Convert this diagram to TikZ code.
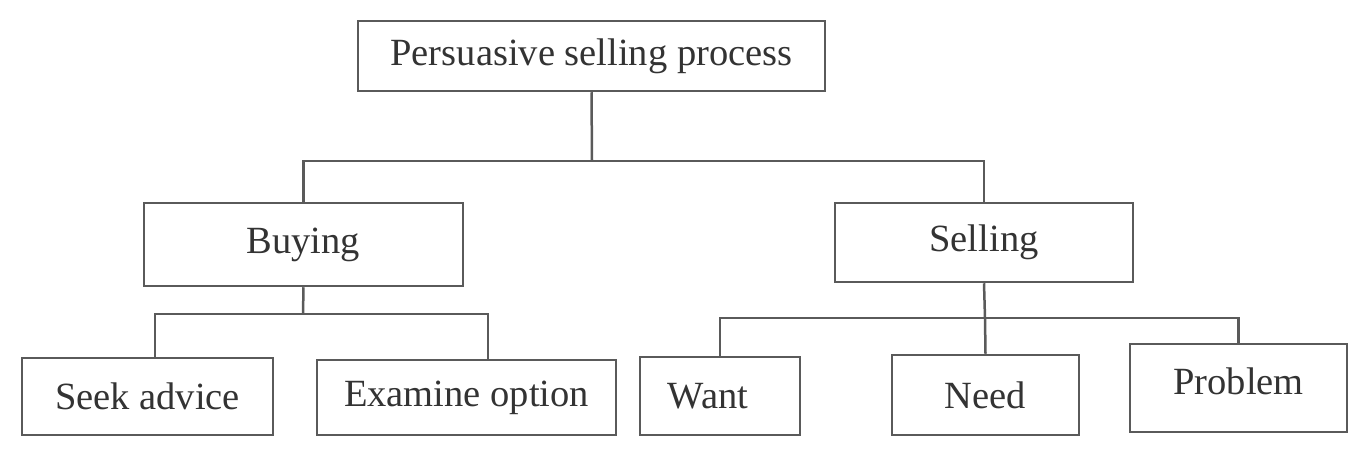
\documentclass[tikz,border=0pt]{standalone}
\usepackage{fontspec}
\setmainfont{Liberation Serif}
\definecolor{linec}{HTML}{5A5A5A}
\definecolor{textc}{HTML}{333333}
\begin{document}
\begin{tikzpicture}[x=1pt,y=-1pt,
  box/.style={draw=linec, line width=2.5pt, fill=white, inner sep=0pt,
    text=textc, font=\fontsize{38.5}{44}\selectfont},
  conn/.style={draw=linec, line width=2.5pt}]
\useasboundingbox[fill=white] (0,0) rectangle (1370,457);
% nodes
\node[box, minimum width=467pt, minimum height=70pt] (top) at (591.5,56) {Persuasive selling process};
\node[box, minimum width=319pt, minimum height=83pt] (buy) at (303.5,244.5) {Buying};
\node[box, minimum width=298pt, minimum height=79pt] (sell) at (984,242.5) {Selling};
\node[box, minimum width=251pt, minimum height=77pt] (seek) at (147.5,396.5) {Seek advice};
\node[box, minimum width=299pt, minimum height=75pt] (exam) at (466.5,397.5) {Examine option};
\node[box, minimum width=160pt, minimum height=78pt] (want) at (720,396) {Want\rule{24pt}{0pt}};
\node[box, minimum width=187pt, minimum height=80pt] (need) at (985.5,395) {Need};
\node[box, minimum width=217pt, minimum height=88pt, text depth=14pt] (prob) at (1238.5,388) {Problem};
% junctions
\coordinate (j1) at (592,161);
\coordinate (j2) at (303,314);
\coordinate (s1) at (155,314);
\coordinate (e1) at (488,314);
\coordinate (j3) at (985,318);
% connectors
\draw[conn] (top.south) -- (j1);
\draw[conn] (buy.north) |- (j1) -| (sell.north);
\draw[conn] (buy.south) -- (j2);
\draw[conn] (s1 |- seek.north) -- (s1) -- (e1) -- (e1 |- exam.north);
\draw[conn] (sell.south) -- (j3);
\draw[conn] (want.north) |- (j3) -| (prob.north);
\draw[conn] (need.north) -- (j3);
\end{tikzpicture}
\end{document}
